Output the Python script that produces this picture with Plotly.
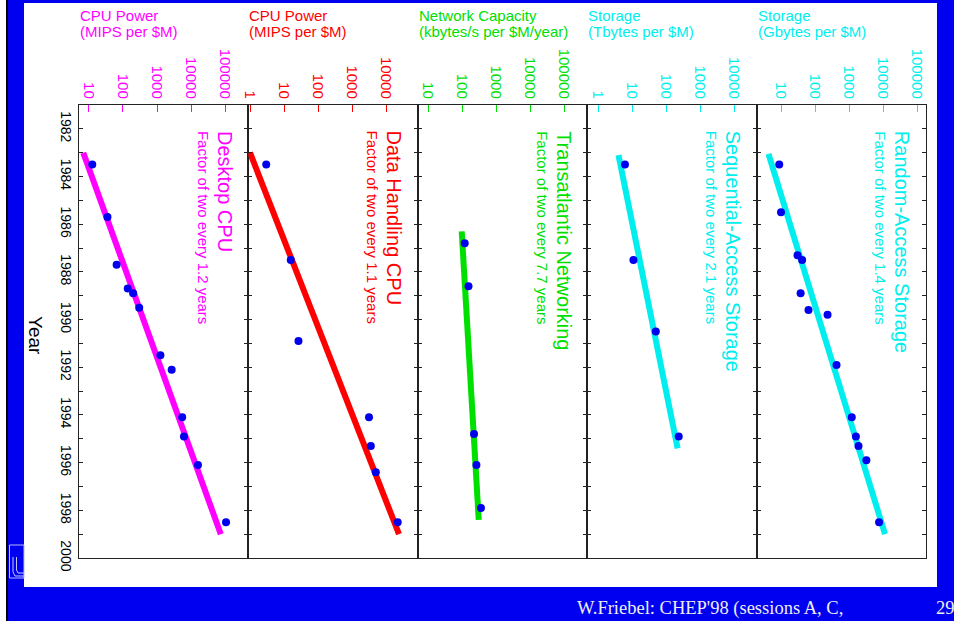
import plotly.graph_objects as go

# ---------------- data ----------------
year_ticks = list(range(1981, 2001))
year_labels = [str(y) if y % 2 == 0 else "" for y in year_ticks]

# Desktop CPU (MIPS per $M)
desk_years = [1983.5, 1985.7, 1987.7, 1988.7, 1988.9, 1989.5, 1991.5, 1992.1, 1994.1, 1994.9, 1996.1, 1998.5]
desk_vals = [12.5, 35, 65, 138, 199, 300, 1260, 2700, 5500, 6200, 16000, 107000]
desk_fit_years = [1983.0, 1999.0]
desk_fit_vals = [6.8, 75000]

# Data handling CPU (MIPS per $M)
dh_years = [1983.5, 1987.5, 1990.9, 1994.1, 1995.3, 1996.4, 1998.5]
dh_vals = [3.0, 15.8, 26.6, 3150, 3560, 5000, 22000]
dh_fit_years = [1983.0, 1999.0]
dh_fit_vals = [1.0, 24000]

# Transatlantic networking (kbytes/s per $M/year)
net_years = [1986.8, 1988.6, 1994.8, 1996.1, 1997.9]
net_vals = [120, 155, 225, 265, 360]
net_fit_years = [1986.3, 1998.4]
net_fit_vals = [98, 310]

# Sequential-access storage (Tbytes per $M)
seq_years = [1983.5, 1987.5, 1990.5, 1994.9]
seq_vals = [6.2, 11, 50, 236]
seq_fit_years = [1983.1, 1995.4]
seq_fit_vals = [4.0, 219]

# Random-access storage (Gbytes per $M)
ras_years = [1983.5, 1985.5, 1987.3, 1987.5, 1988.9, 1989.6, 1989.8, 1991.9, 1994.1, 1994.9, 1995.3, 1995.9, 1998.5]
ras_vals = [8.7, 9.8, 30, 41, 37, 63, 229, 420, 1180, 1560, 1860, 3170, 7500]
ras_fit_years = [1983.05, 1999.0]
ras_fit_vals = [4.2, 11200]

ticks_10 = [10, 100, 1000, 10000, 100000]
ticks_1 = [1, 10, 100, 1000, 10000]

# ---------------- layout helpers ----------------
W, H = 954, 621
ML, MR, MT, MB = 79, 28, 105, 63
PW = W - ML - MR
PH = H - MT - MB


def px(x):
    return (x - ML) / PW


def py(y):
    return (H - MB - y) / PH


MAG = "#FF00FF"
RED = "#FF0000"
GRN = "#00E000"
CYN = "#00EEEE"
DOT = "#0000EE"
FRAME = "#0000F0"
AXC = "#222222"
FONT = "Liberation Sans, Arial, Helvetica, sans-serif"
SERIF = "Liberation Serif, Times New Roman, serif"

panels = [
    dict(c=MAG, rng=[0.707, 5.687], tv=ticks_10, t1="CPU Power", t2="(MIPS per $M)",
         big="Desktop CPU", small="Factor of two every 1.2 years",
         fy=desk_fit_years, fv=desk_fit_vals, dy=desk_years, dv=desk_vals),
    dict(c=RED, rng=[-0.047, 4.933], tv=ticks_1, t1="CPU Power", t2="(MIPS per $M)",
         big="Data Handling CPU", small="Factor of two every 1.1 years",
         fy=dh_fit_years, fv=dh_fit_vals, dy=dh_years, dv=dh_vals),
    dict(c=GRN, rng=[0.70, 5.68], tv=ticks_10, t1="Network Capacity", t2="(kbytes/s per $M/year)",
         big="Transatlantic Networking", small="Factor of two every 7.7 years",
         fy=net_fit_years, fv=net_fit_vals, dy=net_years, dv=net_vals),
    dict(c=CYN, rng=[-0.318, 4.662], tv=ticks_1, t1="Storage", t2="(Tbytes per $M)",
         big="Sequential-Access Storage", small="Factor of two every 2.1 years",
         fy=seq_fit_years, fv=seq_fit_vals, dy=seq_years, dv=seq_vals),
    dict(c=CYN, rng=[0.274, 5.254], tv=ticks_10, t1="Storage", t2="(Gbytes per $M)",
         big="Random-Access Storage", small="Factor of two every 1.4 years",
         fy=ras_fit_years, fv=ras_fit_vals, dy=ras_years, dv=ras_vals),
]

fig = go.Figure()
layout = dict(
    width=W, height=H,
    margin=dict(l=ML, r=MR, t=MT, b=MB, autoexpand=False),
    paper_bgcolor=FRAME, plot_bgcolor="white",
    showlegend=False, template="none",
    font=dict(family=FONT),
)
annotations = []

for i, p in enumerate(panels):
    n = "" if i == 0 else str(i + 1)
    xa, ya = "x" + n, "y" + n
    # fit line then data dots
    fig.add_trace(go.Scatter(x=p["fv"], y=p["fy"], mode="lines", xaxis=xa, yaxis=ya,
                             line=dict(color=p["c"], width=6), hoverinfo="skip"))
    fig.add_trace(go.Scatter(x=p["dv"], y=p["dy"], mode="markers", xaxis=xa, yaxis=ya,
                             marker=dict(color=DOT, size=8)))
    d0, d1 = i / 5, (i + 1) / 5
    layout["xaxis" + n] = dict(
        domain=[d0, d1], type="log", range=p["rng"], side="top", anchor=ya,
        tickvals=p["tv"], ticktext=[str(v) for v in p["tv"]], tickangle=90,
        tickfont=dict(color=p["c"], size=15, family=FONT),
        ticks="inside", ticklen=7, tickcolor=p["c"], tickwidth=1,
        showline=True, linecolor=AXC, linewidth=1, mirror=True,
        showgrid=False, zeroline=False, automargin=False, fixedrange=True,
    )
    ydict = dict(
        range=[2000, 1981], anchor=xa, tickvals=year_ticks, ticktext=year_labels,
        ticks="inside", ticklen=4, tickcolor=AXC, tickwidth=1,
        showline=True, linecolor=AXC, linewidth=1, mirror="ticks",
        showgrid=False, zeroline=False, automargin=False, fixedrange=True,
    )
    if i == 0:
        ydict.update(tickangle=90, tickfont=dict(color="black", size=14, family=FONT))
    else:
        ydict.update(matches="y", showticklabels=False)
    layout["yaxis" + n] = ydict

    dref = xa + " domain"
    annotations.append(dict(text=p["t1"], xref=dref, x=0, xanchor="left", xshift=-1,
                            yref="paper", y=py(15), yanchor="middle", showarrow=False,
                            font=dict(color=p["c"], size=15, family=FONT)))
    annotations.append(dict(text=p["t2"], xref=dref, x=0, xanchor="left", xshift=-1,
                            yref="paper", y=py(31.5), yanchor="middle", showarrow=False,
                            font=dict(color=p["c"], size=15, family=FONT)))
    annotations.append(dict(text=p["big"], xref=dref, x=1, xanchor="center", xshift=-24,
                            yref="y", y=1982, yanchor="top", textangle=90, showarrow=False,
                            font=dict(color=p["c"], size=20, family=FONT)))
    annotations.append(dict(text=p["small"], xref=dref, x=1, xanchor="center", xshift=-45,
                            yref="y", y=1982, yanchor="top", textangle=90, showarrow=False,
                            font=dict(color=p["c"], size=15, family=FONT)))

annotations.append(dict(text="Year", xref="paper", x=px(36), xanchor="center",
                        yref="paper", y=py(335), yanchor="middle", textangle=90, showarrow=False,
                        font=dict(color="black", size=19, family=FONT)))
annotations.append(dict(text="W.Friebel: CHEP'98 (sessions A, C,", xref="paper", x=px(575), xanchor="left",
                        yref="paper", y=py(608), yanchor="middle", showarrow=False,
                        font=dict(color="#EEEEEE", size=18.5, family=SERIF)))
annotations.append(dict(text="29", xref="paper", x=px(934), xanchor="left",
                        yref="paper", y=py(608), yanchor="middle", showarrow=False,
                        font=dict(color="#EEEEEE", size=18.5, family=SERIF)))
layout["annotations"] = annotations


def path(pts):
    return "M " + " L ".join(f"{px(a):.5f},{py(b):.5f}" for a, b in pts)


shapes = [
    dict(type="rect", xref="paper", yref="paper", x0=px(0), x1=px(6), y0=py(621), y1=py(0),
         fillcolor="white", line=dict(width=0), layer="below"),
    dict(type="rect", xref="paper", yref="paper", x0=px(6), x1=px(8), y0=py(621), y1=py(0),
         fillcolor="black", line=dict(width=0), layer="below"),
    dict(type="rect", xref="paper", yref="paper", x0=px(24), x1=px(937), y0=py(587), y1=py(3),
         fillcolor="white", line=dict(width=0), layer="below"),
    dict(type="rect", xref="paper", yref="paper", x0=px(9.5), x1=px(24), y0=py(578), y1=py(545),
         fillcolor="rgba(0,0,0,0)", line=dict(color="#B8B8FF", width=1), layer="below"),
    dict(type="path", xref="paper", yref="paper",
         path=path([(13, 557), (13, 572), (15, 576), (24, 576)]),
         line=dict(color="#C8C8FF", width=1), layer="below"),
    dict(type="path", xref="paper", yref="paper",
         path=path([(16.5, 557), (16.5, 570), (18, 573), (24, 573)]),
         line=dict(color="#C8C8FF", width=1), layer="below"),
]
layout["shapes"] = shapes

fig.update_layout(**layout)
fig.write_html("out.html", config={"displayModeBar": False},
               post_script="document.body.style.margin='0px';document.body.style.overflow='hidden';")
